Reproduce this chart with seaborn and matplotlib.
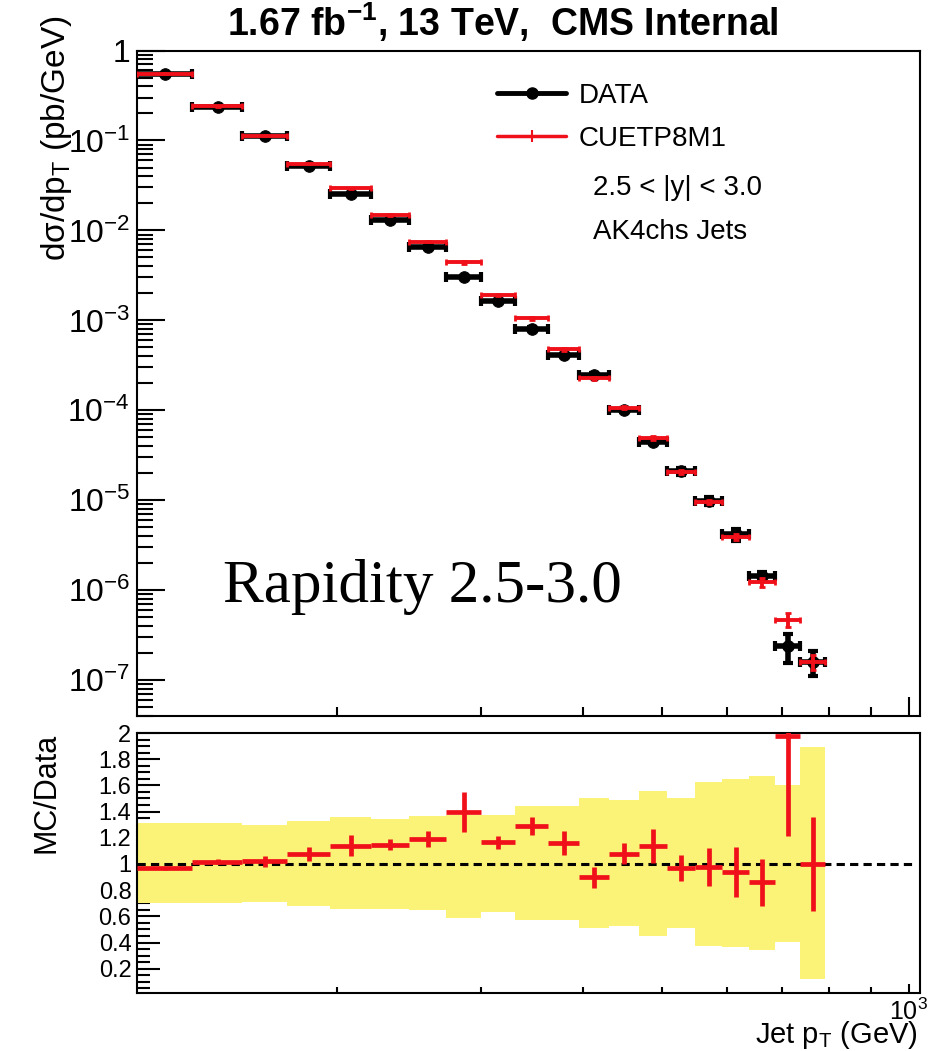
import numpy as np
import matplotlib
matplotlib.use("Agg")
import matplotlib.pyplot as plt
import seaborn as sns
from matplotlib.lines import Line2D
from matplotlib.ticker import (FixedLocator, LogLocator, MultipleLocator,
                               FuncFormatter, NullFormatter)

sns.set_theme(style="ticks")
plt.rcParams["font.family"] = ["Liberation Sans", "DejaVu Sans"]
plt.rcParams.update({
    "mathtext.fontset": "custom",
    "mathtext.rm": "Liberation Sans",
    "mathtext.it": "Liberation Sans:italic",
    "mathtext.bf": "Liberation Sans:bold",
    "axes.edgecolor": "black",
    "axes.labelcolor": "black",
    "text.color": "black",
    "xtick.color": "black",
    "ytick.color": "black",
    "axes.linewidth": 1.5,
    "xtick.direction": "in",
    "ytick.direction": "in",
})

# Jet pT bins (GeV), rapidity 2.5 < |y| < 3.0
pt_edges = [114, 133, 153, 174, 196, 220, 245, 272, 300, 330, 362,
            395, 430, 468, 507, 548, 592, 638, 686, 737, 790]

# dsigma/dpT (pb/GeV)
xsec_data = [0.55, 0.235, 0.111, 0.0524, 0.0255, 0.0130, 0.0065, 0.00306,
             0.00164, 8.1e-4, 4.1e-4, 2.5e-4, 1.0e-4, 4.5e-5, 2.09e-5,
             9.8e-6, 4.2e-6, 1.44e-6, 2.39e-7, 1.61e-7]
xsec_mc = [0.55, 0.24, 0.113, 0.0552, 0.0294, 0.0148, 0.0075, 0.0044,
           0.0019, 1.05e-3, 4.8e-4, 2.26e-4, 1.07e-4, 4.9e-5, 2.05e-5,
           9.6e-6, 3.9e-6, 1.22e-6, 4.7e-7, 1.6e-7]
# relative errors
data_relerr = [0.01, 0.01, 0.01, 0.01, 0.01, 0.01, 0.015, 0.02, 0.02, 0.03,
               0.03, 0.04, 0.05, 0.06, 0.08, 0.10, 0.15, 0.12, 0.35, 0.30]
mc_relerr = [0.01, 0.01, 0.01, 0.01, 0.02, 0.02, 0.02, 0.03, 0.03, 0.03,
             0.04, 0.04, 0.04, 0.05, 0.05, 0.06, 0.08, 0.12, 0.18, 0.18]

# MC/Data ratio
ratio = [0.967, 1.018, 1.02, 1.074, 1.14, 1.148, 1.19, 1.396, 1.166, 1.29,
         1.16, 0.90, 1.08, 1.14, 0.97, 0.98, 0.94, 0.86, 1.98, 1.0]
ratio_err = [0.01, 0.02, 0.04, 0.055, 0.08, 0.045, 0.06, 0.15, 0.05, 0.07,
             0.09, 0.08, 0.08, 0.13, 0.10, 0.145, 0.19, 0.18, 0.77, 0.36]
# data uncertainty band
band_up = [1.31, 1.31, 1.30, 1.33, 1.36, 1.345, 1.365, 1.375, 1.375, 1.44,
           1.44, 1.505, 1.485, 1.56, 1.505, 1.625, 1.645, 1.67, 1.605, 1.89]
band_lo = [0.70, 0.70, 0.71, 0.68, 0.655, 0.66, 0.645, 0.59, 0.635, 0.57,
           0.57, 0.51, 0.53, 0.45, 0.51, 0.375, 0.37, 0.34, 0.405, 0.12]

RED = "#f0101a"
YELLOW = "#fbf278"

edges = np.array(pt_edges, dtype=float)
centers = 0.5 * (edges[1:] + edges[:-1])
half = 0.5 * np.diff(edges)
d = np.array(xsec_data)
m = np.array(xsec_mc)

W, H = 946, 1051
fig = plt.figure(figsize=(W / 100, H / 100), dpi=100)


def box(l, t, r, b):
    return [l / W, 1 - b / H, (r - l) / W, (b - t) / H]


ax = fig.add_axes(box(137, 50.5, 920, 716))
axr = fig.add_axes(box(137, 733, 920, 993))

ax.set_xscale("log")
ax.set_yscale("log")
axr.set_xscale("log")

# ---- main panel
ax.errorbar(centers, d, xerr=half, yerr=d * np.array(data_relerr), fmt="none",
            ecolor="black", elinewidth=4, capsize=3.5, capthick=3, zorder=3)
sns.scatterplot(x=centers, y=d, ax=ax, color="black", s=70, marker="o",
                edgecolor="black", legend=False, zorder=4)
ax.errorbar(centers, m, xerr=half, yerr=m * np.array(mc_relerr), fmt="none",
            ecolor=RED, elinewidth=2.8, capsize=2.5, capthick=2, zorder=5)

ax.set_xlim(114, 1032)
ax.set_ylim(4e-8, 1)

xmaj = [1000]
xmin = [200, 300, 400, 500, 600, 700, 800, 900]
for a in (ax, axr):
    a.xaxis.set_major_locator(FixedLocator(xmaj))
    a.xaxis.set_minor_locator(FixedLocator(xmin))
    a.xaxis.set_minor_formatter(NullFormatter())
    a.tick_params(top=False, right=False, which="both", width=1.5)
ax.xaxis.set_major_formatter(NullFormatter())


def pow_fmt(v, pos):
    e = int(round(np.log10(v)))
    return "1" if e == 0 else rf"$10^{{{e}}}$"


ax.yaxis.set_major_locator(LogLocator(base=10, numticks=15))
ax.yaxis.set_minor_locator(LogLocator(base=10, subs=np.arange(2, 10), numticks=15))
ax.yaxis.set_major_formatter(FuncFormatter(pow_fmt))
ax.yaxis.set_minor_formatter(NullFormatter())
ax.tick_params(axis="y", which="major", length=20, labelsize=23, pad=5)
ax.tick_params(axis="y", which="minor", length=11.5)
ax.tick_params(axis="x", which="major", length=13.5)
ax.tick_params(axis="x", which="minor", length=6.5)

ax.set_ylabel("dσ/dp$_{\\mathrm{T}}$ (pb/GeV)", fontsize=24, loc="top")
ax.yaxis.set_label_coords(-0.08, 1.053)

h_data = Line2D([], [], color="black", lw=3.5, marker="o", ms=8)
h_mc = Line2D([], [], color=RED, lw=2.5, marker="|", ms=8, mew=1.5)
ax.legend([h_data, h_mc], ["DATA", "CUETP8M1"], loc="upper left",
          bbox_to_anchor=(497 / W, 1 - 83 / H), bbox_transform=fig.transFigure,
          frameon=False, fontsize=20, handlelength=2.5, handletextpad=0.45,
          labelspacing=0.6, borderpad=0, borderaxespad=0)
ax.text(593 / W, 1 - 188 / H, "2.5 < |y| < 3.0", transform=fig.transFigure,
        fontsize=20, va="center")
ax.text(593 / W, 1 - 232 / H, "AK4chs Jets", transform=fig.transFigure,
        fontsize=20, va="center")

# ---- ratio panel
axr.stairs(band_up, edges, baseline=band_lo, fill=True, color=YELLOW,
           lw=0, zorder=1)
axr.axhline(1, xmax=0.99, color="black", ls=(0, (2.7, 1.7)), lw=2.2, zorder=2)
axr.errorbar(centers, ratio, xerr=half, yerr=ratio_err, fmt="none",
             ecolor=RED, elinewidth=3.4, capsize=0, zorder=3)

axr.set_xlim(114, 1032)
axr.set_ylim(0.015, 2.0)
axr.xaxis.set_major_formatter(FuncFormatter(lambda v, p: r"$10^{3}$"))
axr.yaxis.set_major_locator(MultipleLocator(0.2))
axr.yaxis.set_minor_locator(MultipleLocator(0.05))
axr.yaxis.set_major_formatter(FuncFormatter(lambda v, p: f"{v:g}"))
axr.tick_params(axis="y", which="major", length=16.5, labelsize=17, pad=4)
axr.tick_params(axis="y", which="minor", length=9.4)
axr.tick_params(axis="x", which="major", length=6.5, labelsize=18, pad=4)
axr.tick_params(axis="x", which="minor", length=4)

axr.set_ylabel("MC/Data", fontsize=22, loc="top")
axr.yaxis.set_label_coords(-0.096, 1.0)
axr.set_xlabel("Jet p$_{\\mathrm{T}}$ (GeV)", fontsize=21, loc="right")
axr.xaxis.set_label_coords(0.9974, -0.1)

# ---- titles / annotations
fig.text(503 / W, 1 - 22 / H, r"1.67 fb$^{\mathbf{-1}}$, 13 TeV,  CMS Internal",
         ha="center", va="center", fontsize=27, fontweight="bold")
fig.text(223 / W, 1 - 587 / H, "Rapidity 2.5-3.0", family="Liberation Serif",
         fontsize=44, va="center")

fig.savefig("out.png", dpi=100)
